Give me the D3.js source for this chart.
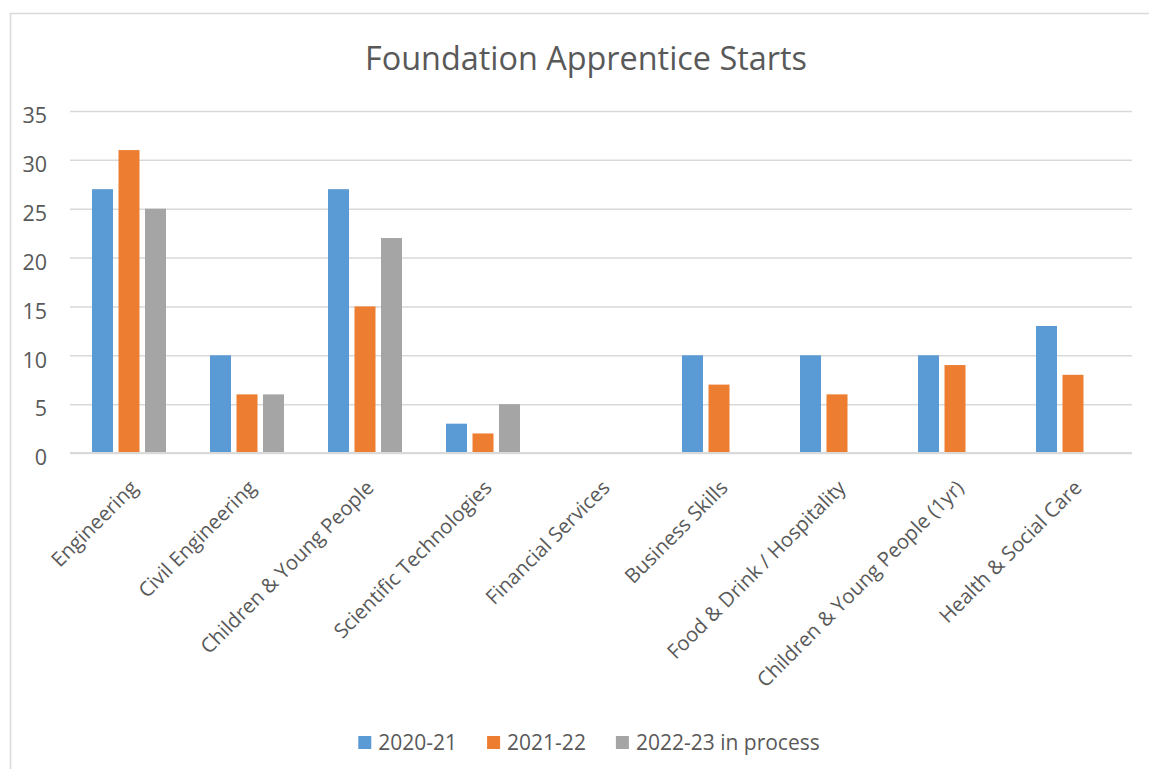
<!DOCTYPE html>
<html>
<head>
<meta charset="utf-8">
<script src="https://cdn.jsdelivr.net/npm/d3@7"></script>
<style>
  html, body { margin: 0; padding: 0; background: #fff; }
  svg { display: block; }
  text { font-family: "Open Sans", sans-serif; fill: #595959; }
</style>
</head>
<body>
<svg id="chart" width="1149" height="769"></svg>
<script>
const categories = [
  "Engineering",
  "Civil Engineering",
  "Children & Young People",
  "Scientific Technologies",
  "Financial Services",
  "Business Skills",
  "Food & Drink / Hospitality",
  "Children & Young People (1yr)",
  "Health & Social Care"
];
const seriesNames = ["2020-21", "2021-22", "2022-23 in process"];
const values2020 = [27, 10, 27, 3, null, 10, 10, 10, 13];
const values2021 = [31, 6, 15, 2, null, 7, 6, 9, 8];
const values2022 = [25, 6, 22, 5, null, null, null, null, null];
const yTicks = [0, 5, 10, 15, 20, 25, 30, 35];
const title = "Foundation Apprentice Starts";
const colors = ["#5B9BD5", "#ED7D31", "#A5A5A5"];

const seriesValues = [values2020, values2021, values2022];

const svg = d3.select("#chart");

// chart area border
svg.append("rect")
  .attr("x", 10.5).attr("y", 13.5)
  .attr("width", 1400).attr("height", 900)
  .attr("fill", "none").attr("stroke", "#D9D9D9").attr("stroke-width", 1.5);

const x0 = d3.scaleBand().domain(categories).range([70, 1132]).paddingInner(0).paddingOuter(0);
const x1 = d3.scaleBand().domain(seriesNames).range([22, x0.bandwidth() - 22]).paddingInner(5.5 / 26.5).paddingOuter(0);
const y = d3.scaleLinear().domain([0, 35]).range([453, 111]);

// gridlines + y labels
const yAxis = d3.axisLeft(y).tickValues(yTicks).tickSize(-(1132 - 70)).tickPadding(23);
const gy = svg.append("g").attr("transform", "translate(70,0)").call(yAxis);
gy.select(".domain").remove();
gy.selectAll(".tick line").attr("stroke", "#D9D9D9").attr("stroke-width", 1.5);
gy.selectAll(".tick text")
  .attr("font-size", 21.5)
  .attr("fill", "#595959")
  .attr("dy", "0.55em")
  .style("font-family", '"Open Sans", sans-serif');

// bars
const groups = svg.append("g").selectAll("g")
  .data(categories)
  .join("g")
  .attr("transform", d => `translate(${x0(d)},0)`);

groups.selectAll("rect")
  .data((d, i) => seriesNames.map((s, j) => ({ s, v: seriesValues[j][i], c: colors[j] })))
  .join("rect")
  .filter(d => d.v != null)
  .attr("x", d => x1(d.s))
  .attr("width", x1.bandwidth())
  .attr("y", d => y(d.v))
  .attr("height", d => y(0) - y(d.v))
  .attr("fill", d => d.c);

// zero line on top
svg.append("line")
  .attr("x1", 70).attr("x2", 1132)
  .attr("y1", y(0)).attr("y2", y(0))
  .attr("stroke", "#D9D9D9").attr("stroke-width", 2);

// x labels
const xAxis = d3.axisBottom(x0).tickSize(0).tickPadding(0);
const gx = svg.append("g").attr("transform", `translate(0,${y(0)})`).call(xAxis);
gx.select(".domain").remove();
gx.selectAll(".tick text")
  .attr("font-size", 20.3)
  .attr("fill", "#595959")
  .style("font-family", '"Open Sans", sans-serif')
  .attr("text-anchor", "end")
  .attr("dy", null)
  .attr("y", null)
  .attr("transform", "translate(10,36) rotate(-45)");

// title
svg.append("text")
  .attr("x", 586).attr("y", 70)
  .attr("text-anchor", "middle")
  .attr("font-size", 32.4)
  .text(title);

// legend
const lg = svg.append("g");
const items = lg.selectAll("g").data(seriesNames).join("g");
items.append("rect").attr("width", 13).attr("height", 13).attr("y", 736).attr("fill", (d, i) => colors[i]);
items.append("text").attr("x", 20).attr("y", 749.5).attr("font-size", 21).text(d => d);
const widths = [];
items.each(function () {
  const t = d3.select(this).select("text").node().getComputedTextLength();
  widths.push(20 + t);
});
const total = d3.sum(widths) + 30 * (widths.length - 1);
let cursor = 589 - total / 2;
items.each(function (d, i) {
  d3.select(this).attr("transform", `translate(${cursor},0)`);
  cursor += widths[i] + 30;
});
</script>
</body>
</html>
